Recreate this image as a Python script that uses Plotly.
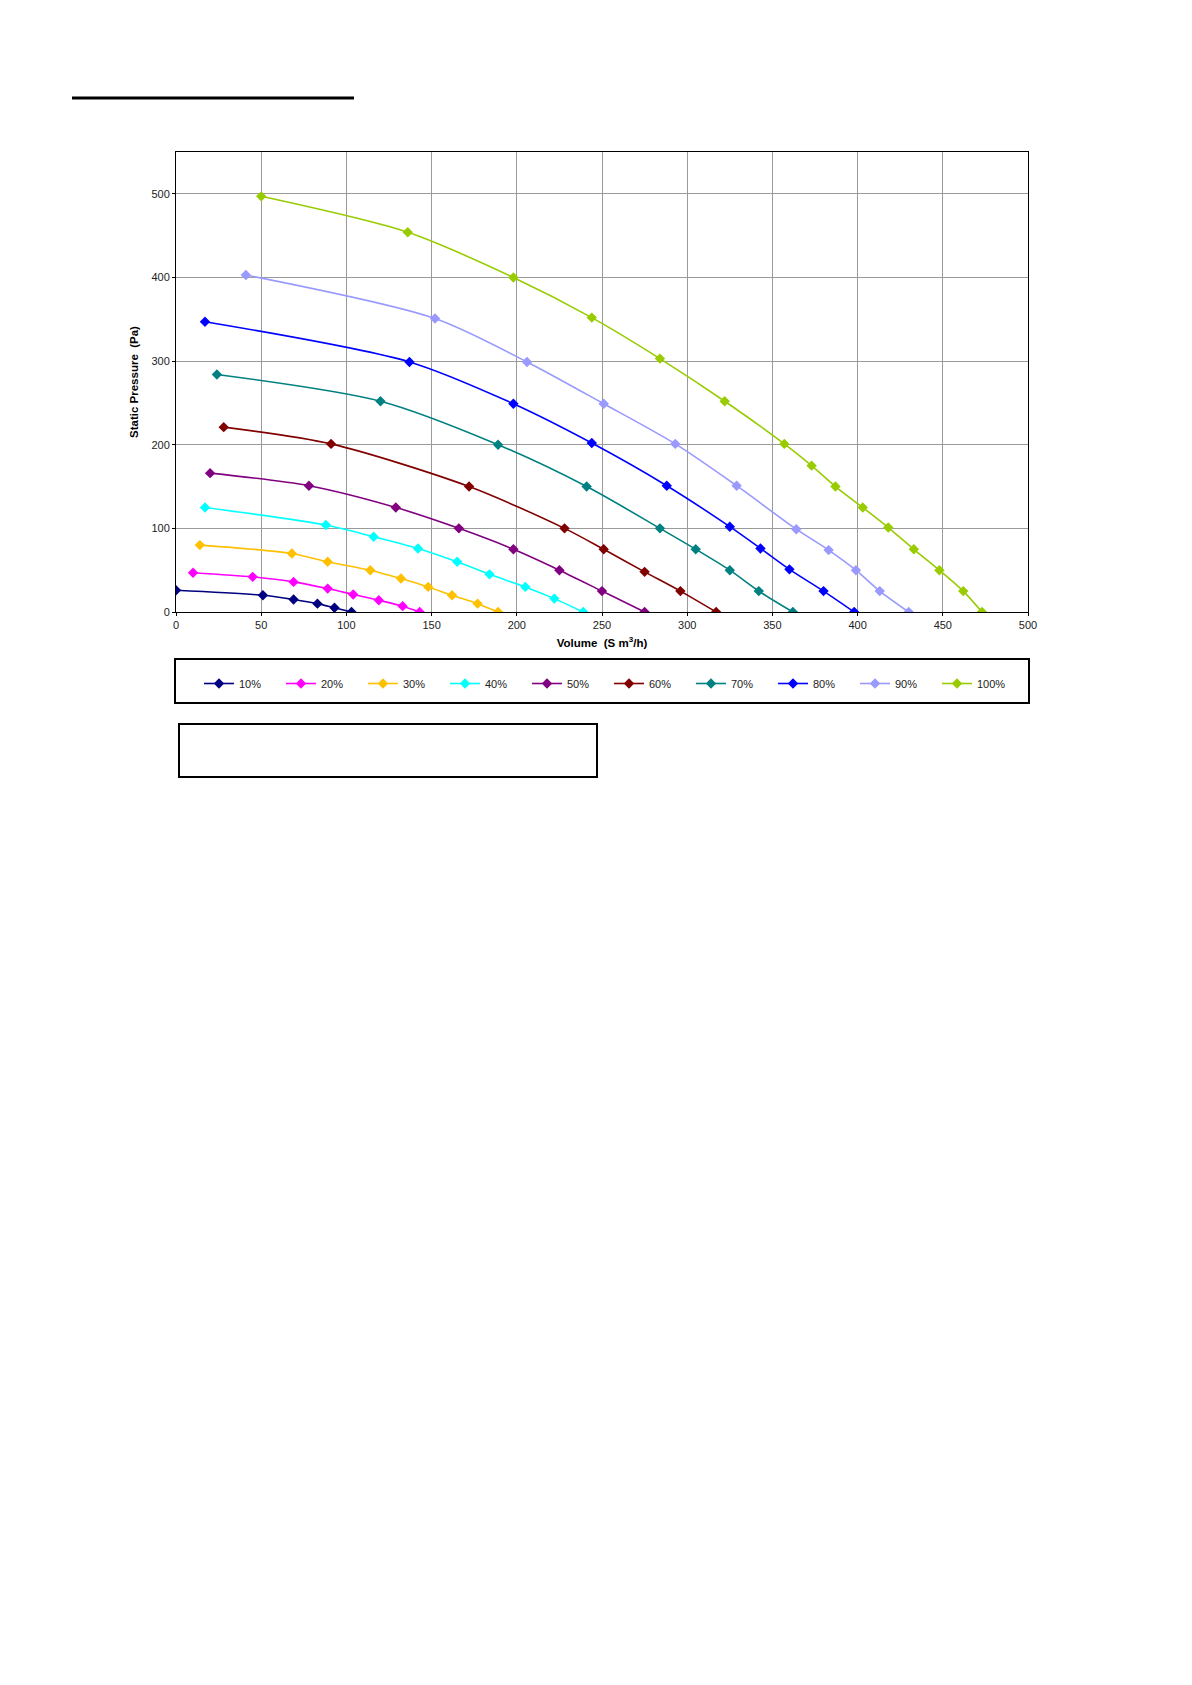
import plotly.graph_objects as go

# Fan curves: volume (S m3/h) vs static pressure (Pa), one series per speed setting
series_names = ["10%", "20%", "30%", "40%", "50%", "60%", "70%", "80%", "90%", "100%"]

vol_10 = [0, 51, 69, 83, 93, 103]
pa_10 = [26, 20, 15, 10, 5, 0]

vol_20 = [10, 45, 69, 89, 104, 119, 133, 143]
pa_20 = [47, 42, 36, 28, 21, 14, 7, 0]

vol_30 = [14, 68, 89, 114, 132, 148, 162, 177, 189]
pa_30 = [80, 70, 60, 50, 40, 30, 20, 10, 0]

vol_40 = [17, 88, 116, 142, 165, 184, 205, 222, 239]
pa_40 = [125, 104, 90, 76, 60, 45, 30, 16, 0]

vol_50 = [20, 78, 129, 166, 198, 225, 250, 275]
pa_50 = [166, 151, 125, 100, 75, 50, 25, 0]

vol_60 = [28, 91, 172, 228, 251, 275, 296, 317]
pa_60 = [221, 201, 150, 100, 75, 48, 25, 0]

vol_70 = [24, 120, 189, 241, 284, 305, 325, 342, 362]
pa_70 = [284, 252, 200, 150, 100, 75, 50, 25, 0]

vol_80 = [17, 137, 198, 244, 288, 325, 343, 360, 380, 398]
pa_80 = [347, 299, 249, 202, 151, 102, 76, 51, 25, 0]

vol_90 = [41, 152, 206, 251, 293, 329, 364, 383, 399, 413, 430]
pa_90 = [403, 351, 299, 249, 201, 151, 99, 74, 50, 25, 0]

vol_100 = [50, 136, 198, 244, 284, 322, 357, 373, 387, 403, 418, 433, 448, 462, 473]
pa_100 = [497, 454, 400, 352, 303, 252, 201, 175, 150, 125, 101, 75, 50, 25, 0]

volumes = [vol_10, vol_20, vol_30, vol_40, vol_50, vol_60, vol_70, vol_80, vol_90, vol_100]
pressures = [pa_10, pa_20, pa_30, pa_40, pa_50, pa_60, pa_70, pa_80, pa_90, pa_100]

colors = ["#000080", "#FF00FF", "#FFC000", "#00FFFF", "#800080",
          "#800000", "#008080", "#0000FF", "#9999FF", "#99CC00"]

FONT = "Arial, Liberation Sans, sans-serif"
OFF = 8  # the page body adds an 8px margin, so shift everything back
W, H = 1192 - OFF, 1685 - OFF
L, R, T, B = 176 - OFF, 1028 - OFF, 152 - OFF, 612 - OFF  # plot area in pixels


def px_x(p):
    return (p - OFF - L) / (R - L)


def px_y(p):
    return (B - (p - OFF)) / (B - T)


fig = go.Figure()
for name, xs, ys, c in zip(series_names, volumes, pressures, colors):
    fig.add_trace(go.Scatter(
        x=xs, y=ys, name=name, mode="lines+markers",
        line=dict(color=c, width=1.6, shape="spline", smoothing=0.8),
        marker=dict(symbol="diamond", size=8, color=c),
    ))

shapes = [
    # heading rule at the top
    dict(type="line", xref="paper", yref="paper",
         x0=px_x(72), x1=px_x(354), y0=px_y(98), y1=px_y(98),
         line=dict(color="black", width=3)),
    # legend frame
    dict(type="rect", xref="paper", yref="paper",
         x0=px_x(175), x1=px_x(1029), y0=px_y(703), y1=px_y(659),
         line=dict(color="black", width=2)),
    # empty box under the legend
    dict(type="rect", xref="paper", yref="paper",
         x0=px_x(179), x1=px_x(597), y0=px_y(777), y1=px_y(724),
         line=dict(color="black", width=2)),
]

fig.update_layout(
    width=W, height=H,
    margin=dict(l=L, r=W - R, t=T, b=H - B),
    paper_bgcolor="white", plot_bgcolor="white",
    font=dict(family=FONT, size=11, color="#222"),
    showlegend=True,
    legend=dict(orientation="h", x=px_x(199), xanchor="left",
                y=px_y(669), yanchor="top", bgcolor="rgba(0,0,0,0)",
                font=dict(size=11, family=FONT, color="#222"),
                entrywidth=37, entrywidthmode="pixels", itemwidth=30),
    shapes=shapes,
)

fig.update_xaxes(
    range=[0, 500], dtick=50, tick0=0,
    showgrid=True, gridcolor="#9a9a9a", gridwidth=1,
    showline=True, linecolor="black", linewidth=1, mirror=True,
    ticks="outside", ticklen=3, tickcolor="black",
    zeroline=False, automargin=False,
    title=dict(text="<b>Volume  (S m<sup>3</sup>/h)</b>", standoff=8,
               font=dict(size=11.5, family=FONT, color="black")),
)
fig.update_yaxes(
    range=[0, 550], dtick=100, tick0=0,
    showgrid=True, gridcolor="#9a9a9a", gridwidth=1,
    showline=True, linecolor="black", linewidth=1, mirror=True,
    ticks="outside", ticklen=3, tickcolor="black",
    zeroline=False, automargin=False,
    title=dict(text="<b>Static Pressure  (Pa)</b>", standoff=10,
               font=dict(size=11.5, family=FONT, color="black")),
)

fig.write_html("out.html")
